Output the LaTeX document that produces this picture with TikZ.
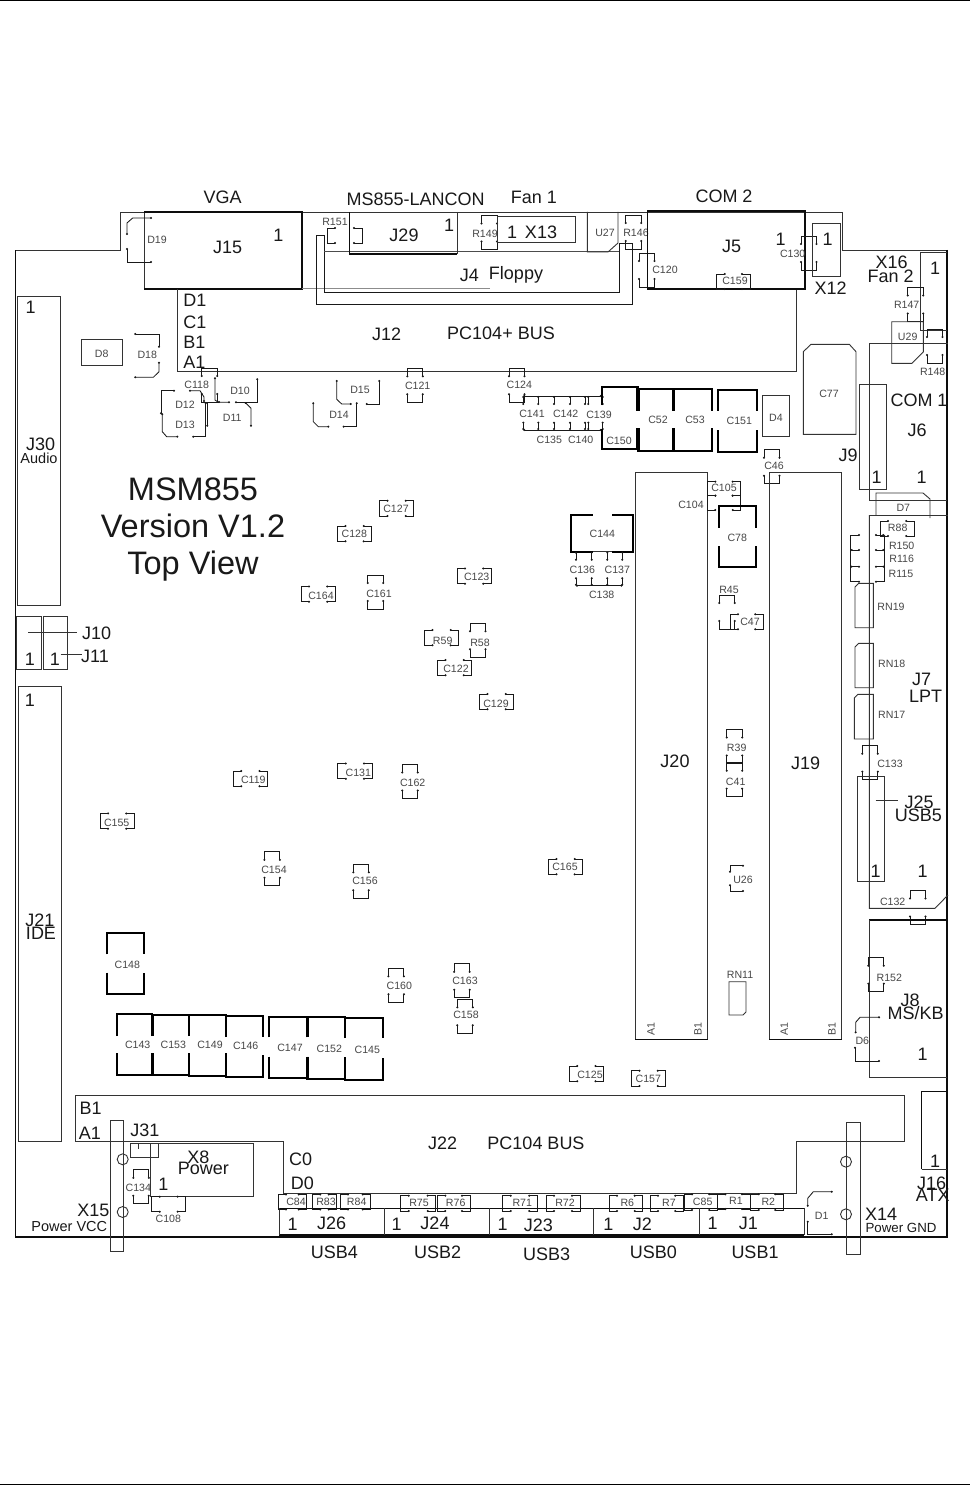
\documentclass[tikz,border=0pt]{standalone}
\usepackage{fontspec}
\setmainfont{Liberation Sans}
\usetikzlibrary{arrows.meta}
\newcounter{lbl}
\tikzset{
  big/.style={inner sep=0pt,font=\fontsize{18}{18}\selectfont,text height=12.9pt,text depth=0pt,text=black!90},
  sm/.style={inner sep=0pt,font=\fontsize{10.6}{11}\selectfont,text height=7.6pt,text depth=0pt,text=black!72},
  mid/.style={inner sep=0pt,font=\fontsize{14.5}{15}\selectfont,text height=10.4pt,text depth=0pt,text=black!90},
  lowmid/.style={inner sep=0pt,font=\fontsize{13.3}{14}\selectfont,text height=9.5pt,text depth=0pt,text=black!90},
  title/.style={inner sep=0pt,font=\fontsize{32.5}{33}\selectfont,text height=23.3pt,text depth=0pt,text=black!90},
  wire/.style={line width=.9pt,draw=black!80},
  heavy/.style={line width=1.2pt,draw=black!95},
  pin/.style={line width=.85pt,draw=black!90,arrows={Circle[length=1.9pt,fill=black]-Circle[length=1.9pt,fill=black]}},
  fat/.style={line width=1.9pt,draw=black},
  fatter/.style={line width=3.6pt,draw=black},
}
\newcommand\tx[4][big]{\stepcounter{lbl}\node[#1] (t\arabic{lbl}) at (#2,#3) {#4};}
% vertical footprint: x y (top-left), label x y, text
\newcommand\capv[5]{%
  \pgfmathsetmacro\xb{#1+15.5}\pgfmathsetmacro\ya{#2+9}\pgfmathsetmacro\yb{#2+25}\pgfmathsetmacro\yc{#2+34}%
  \draw[pin] (#1,\ya)--(#1,#2)--(\xb,#2)--(\xb,\ya);
  \draw[pin] (#1,\yb)--(#1,\yc)--(\xb,\yc)--(\xb,\yb);
  \tx[sm]{#3}{#4}{#5}}
% horizontal footprint
\newcommand\caph[5]{%
  \pgfmathsetmacro\xb{#1+34.3}\pgfmathsetmacro\xa{#1+9}\pgfmathsetmacro\xc{#1+25.3}\pgfmathsetmacro\yb{#2+15.3}%
  \draw[pin] (\xa,#2)--(#1,#2)--(#1,\yb)--(\xa,\yb);
  \draw[pin] (\xc,#2)--(\xb,#2)--(\xb,\yb)--(\xc,\yb);
  \tx[sm]{#3}{#4}{#5}}
% horizontal footprint, free right edge; optional = label offset from bottom edge
\newcommand\caphw[6][-8]{%
  \pgfmathsetmacro\xa{#2+9}\pgfmathsetmacro\xc{#3-9}\pgfmathsetmacro\ly{#5+(#1)}%
  \draw[pin] (\xa,#4)--(#2,#4)--(#2,#5)--(\xa,#5);
  \draw[pin] (\xc,#4)--(#3,#4)--(#3,#5)--(\xc,#5);
  \tx[sm]{#6}{\ly}{\labeltext}}
\newcommand\chw[7][-8]{\def\labeltext{#7}\caphw[#1]{#2}{#3}{#4}{#5}{#6}}
% thick capacitor: x1 x2 y1 y2 g1 g2
\newcommand\tcap[6]{%
  \draw[fat] (#1,#5)--(#1,#3)--(#2,#3)--(#2,#5);
  \draw[fat] (#1,#6)--(#1,#4)--(#2,#4)--(#2,#6);}
\begin{document}
\begin{tikzpicture}[x=1pt,y=-1pt,line join=miter]
\useasboundingbox (0,0) rectangle (970,1487);
\fill[white] (0,0) rectangle (970,1487);
% page rules
\draw[line width=1pt,black] (0,.8)--(970,.8);
\draw[line width=1pt,black] (0,1484.5)--(970,1484.5);
% board outline
\draw[wire] (15.5,250)--(120,250)--(120,212)--(842,212)--(842,250)--(947,250);
\draw[heavy] (947,250)--(947,1237)--(15.5,1237)--(15.5,250);
% VGA
\draw[wire] (144,212)--(144,289);
\draw[heavy] (144,212)--(302,212)--(302,289)--(144,289);
\draw[pin] (127,235)--(127,223)--(132.7,218)--(152,218);
\draw[pin] (127,248)--(127,262)--(152,262);
\tx[sm]{157}{240}{D19}
\tx{222.7}{197}{VGA}\tx{227.7}{247.3}{J15}\tx{278.3}{235}{1}
% J12
\draw[wire] (177,289)--(177,371.5)--(796.7,371.5)--(796.7,289);
\draw[wire,draw=black!45] (302,288.5)--(490,288.5);
\draw[wire] (796.7,289)--(805,289);
\tx{195}{300}{D1}\tx{195}{321.7}{C1}\tx{194.3}{342.3}{B1}\tx{194.3}{362.3}{A1}
\tx{386.7}{334}{J12}\tx{501}{333}{PC104+ BUS}
% J4
\draw[wire,draw=black!90] (619,243)--(619,292)--(324,292)--(324,235)--(316,235)--(316,304)--(632,304)--(632,243)--(619,243);
\draw[wire,draw=black!70] (324,251.7)--(619,251.7);
\tx{469.3}{275}{J4}\tx{516}{273}{Floppy}
% J29
\draw[heavy] (349.3,212)--(349.3,254)--(457.3,254);
\draw[wire] (457.3,212)--(457.3,254);
\chw[-21]{327}{362}{228}{243}{335}{R151}
\tx{404}{235}{J29}\tx{449}{225}{1}\tx{415.7}{199}{MS855-LANCON}
% R149, X13
\capv{481.5}{215.5}{485}{234}{R149}
\draw[wire] (497,216) rectangle (575.7,242);
\tx{512}{231.7}{1}\tx{541}{231.7}{X13}\tx{534}{197}{Fan 1}
% U27
\draw[wire] (587.3,212)--(587.3,252)--(608,252)--(618,243)--(618,212);
\tx[sm]{605}{233}{U27}
\capv{625.7}{215}{636}{232.5}{R146}
\capv{639}{253}{665}{270}{C120}
% J5
\draw[heavy] (647.7,211)--(805,211)--(805,289)--(647.7,289)--cycle;
\tx{731.7}{246}{J5}\tx{780.7}{239}{1}\tx{724}{196}{COM 2}
\chw{716.7}{750}{274}{289}{735}{C159}
\capv{801}{236}{792.7}{254}{C130}
\draw[wire] (812.7,223) rectangle (840,276);
\tx{827.7}{239}{1}\tx{830.7}{288}{X12}
% X16 / fan 2
\draw[wire] (920.7,252)--(920.7,330)--(947,330);
\draw[wire] (920.7,252)--(947,252);
\tx{935}{268}{1}\tx{891.7}{261.7}{X16}\tx{890.7}{276}{Fan 2}
\capv{907.7}{287.5}{906.7}{305}{R147}
\draw[wire] (923.3,321.7)--(891.7,321.7)--(891.7,363.3)--(912,363.3)--(923.3,352)--(923.3,321.7);
\tx[sm]{907.7}{336.7}{U29}
\capv{927}{329}{932.7}{371.7}{R148}
% J6 COM1
\draw[wire] (869,343)--(948,343);
\draw[wire] (869,343)--(869,500.7)--(947,500.7);
\tx{919}{400}{COM 1}\tx{917}{430}{J6}\tx{921.7}{477}{1}
% J9
\draw[wire] (859.3,489.3)--(859.3,384.3)--(886,384.3)--(886,489.3)--cycle;
\tx{848}{455}{J9}\tx{876.7}{477}{1}
% C77, D4, C46
\draw[wire] (803.3,434.3)--(803.3,351.7)--(811,344.3)--(849.3,344.3)--(856,351.7)--(856,434.3)--cycle;
\tx[sm]{829}{394}{C77}
\draw[wire] (762.3,395.7) rectangle (789,436);
\tx[sm]{776}{418}{D4}
\capv{764}{449.8}{774}{466}{C46}
% J30
\draw[wire] (17.3,605)--(17.3,296)--(60.7,296)--(60.7,605)--cycle;
\tx{30.7}{306.7}{1}\tx{40.7}{444}{J30}\tx[mid]{39}{458}{Audio}
% J10 J11
\draw[wire] (16,616.7) rectangle (41.7,669.3);
\draw[wire] (43.3,616.7) rectangle (67.3,669.3);
\draw[wire] (28.3,632)--(76.7,632);
\draw[wire] (60.7,654)--(81.7,654);
\tx{96.7}{633}{J10}\tx{95}{655.7}{J11}\tx{30}{659.3}{1}\tx{55}{659.3}{1}
% J21
\draw[wire] (18.3,686.7) rectangle (61,1141.5);
\tx{30}{700}{1}\tx{40}{920}{J21}\tx{41}{933}{IDE}
% D parts
\draw[wire] (81.3,339.3) rectangle (122.7,365.7);
\tx[sm]{101.7}{354}{D8}
\draw[pin] (134.3,334)--(159,334)--(159,347.7);
\draw[pin] (159,361.7)--(159,371.7)--(153.3,377.3)--(134.3,377.3);
\tx[sm]{147.3}{355}{D18}
\capv{201.7}{368}{196.7}{385}{C118}
\draw[pin] (257.3,378.3)--(257.3,402.3)--(235,402.3);
\draw[pin] (215,377.3)--(215,400)--(218.3,402.3)--(230,402.3);
\tx[sm]{240}{391}{D10}
\draw[pin] (220,402)--(207.3,402)--(207.3,426.7);
\draw[pin] (245,402.3)--(251,408.3)--(251,426.7);
\tx[sm]{232.3}{418}{D11}
\draw[pin] (175,390.7)--(161,390.7)--(161,414.3);
\draw[pin] (189,390.7)--(200,390.7)--(204,397)--(204,402);
\tx[sm]{185}{405}{D12}
\draw[pin] (162.3,413.3)--(162.3,431.7)--(166.7,436.7)--(178.3,436.7);
\draw[pin] (192.3,436.7)--(205.7,436.7)--(205.7,402.3);
\tx[sm]{185}{425}{D13}
\draw[pin] (313.3,402.3)--(313.3,421.7)--(318.3,426.7)--(329.3,426.7);
\draw[pin] (342.7,426.7)--(356.7,426.7)--(356.7,402.3);
\tx[sm]{339}{415}{D14}
\draw[pin] (336.7,380)--(336.7,399.3)--(341.7,404)--(351.7,404);
\draw[pin] (365.7,404)--(379.3,404)--(379.3,380);
\tx[sm]{360}{390}{D15}
\capv{407.3}{368.3}{417.7}{386}{C121}
\capv{509}{368.3}{519.3}{385}{C124}
% C139 row
\draw[pin] (523.3,396)--(601.7,396);
\draw[pin] (523.3,430)--(601.7,430);
\foreach \xx in {523.3,538.3,554,570,585,588.3,602.7}{
  \draw[pin] (\xx,396)--(\xx,405);
  \draw[pin] (\xx,430)--(\xx,421.7);}
\tx[sm]{532}{414}{C141}\tx[sm]{565.7}{414}{C142}\tx[sm]{599}{415}{C139}
\tx[sm]{549.3}{440}{C135}\tx[sm]{580.7}{440}{C140}
% thick row top
\tcap{601.7}{637.7}{387.3}{449.3}{405}{429}
\tcap{637.7}{673.3}{389}{450.7}{410.7}{428.3}
\tcap{673.3}{712}{389}{450.7}{410.7}{428.3}
\tcap{718.3}{756.7}{390}{451.7}{410.7}{430}
\draw[fatter] (637.7,388)--(637.7,410.7) (637.7,428.3)--(637.7,450);
\draw[fatter] (673.3,389)--(673.3,410.7) (673.3,428.3)--(673.3,450.7);
\tx[sm]{619}{440.7}{C150}\tx[sm]{658}{420}{C52}\tx[sm]{695}{420}{C53}\tx[sm]{739.3}{420.7}{C151}
% title
\tx[title]{193}{489}{MSM855}\tx[title]{193}{526}{Version V1.2}\tx[title]{193}{563}{Top View}
% J20 J19
\draw[wire] (635,1039.3)--(635,472.7)--(707.7,472.7)--(707.7,1039.3);
\draw[heavy] (635,1039.3)--(707.7,1039.3);
\draw[wire] (769.3,1039.3)--(769.3,472.7)--(841.7,472.7)--(841.7,1039.3);
\draw[heavy] (769.3,1039.3)--(841.7,1039.3);
\tx{675}{761}{J20}\tx{805.7}{763.3}{J19}
\node[sm,rotate=90] (a1l) at (650.7,1029.3) {A1};
\node[sm,rotate=90] (b1l) at (697.7,1029.3) {B1};
\node[sm,rotate=90] (a1r) at (784,1029.3) {A1};
\node[sm,rotate=90] (b1r) at (831.7,1029.3) {B1};
\chw{707.3}{740.7}{481.7}{495.7}{724}{C105}
\chw[-5]{707.3}{740.7}{495.7}{510}{691}{C104}
\tcap{718.7}{756}{505.7}{567.3}{527.7}{546}
\tx[sm]{737.3}{537.3}{C78}
\capv{719.3}{595}{729}{590}{R45}
\chw{730}{763.3}{614.3}{629.3}{750}{C47}
\capv{726.7}{729.5}{736.7}{747.3}{R39}
\capv{726.7}{762.7}{735.7}{781.7}{C41}
\draw[pin] (730,872.7)--(730,865.7)--(744,865.7);
\draw[pin] (730,884.3)--(730,891)--(744,891);
\tx[sm]{743}{880}{U26}
\draw[wire] (729,981.7)--(746,981.7)--(746,1012)--(743,1015)--(729,1015)--cycle;
\tx[sm]{740}{975}{RN11}
% C144
\draw[fat] (592.7,515)--(571,515)--(571,551.7)--(592.7,551.7);
\draw[fat] (612.3,515)--(633.3,515)--(633.3,551.7)--(612.3,551.7);
\draw[wire] (592.7,551.7)--(612.3,551.7);
\tx[sm]{602.3}{533.3}{C144}
\foreach \xx in {576,591.7,607.3,622.3}{
  \draw[pin] (\xx,551.7)--(\xx,560.7);
  \draw[pin] (\xx,577.3)--(\xx,585.7);}
\draw[pin] (576,585.7)--(622.3,585.7);
\tx[sm]{582.3}{570}{C136}\tx[sm]{617.3}{570}{C137}\tx[sm]{601.7}{594.3}{C138}
% J7
\draw[wire] (869,515)--(948,515);
\draw[wire] (869.3,515)--(869.3,908.3)--(935,908.3)--(948,895);
\draw[wire] (876,515)--(876,493)--(923,493)--(930,499)--(930,518);
\tx[sm]{903.3}{508}{D7}
\tx{921.7}{679}{J7}\tx{925.7}{696}{LPT}
\chw{880}{914.3}{521}{536}{897.7}{R88}
\draw[pin] (860,535)--(850.7,535)--(850.7,581.7)--(860,581.7);
\draw[pin] (884.3,535)--(884.3,581.7)--(875,581.7);
\draw[pin] (875,535)--(884.3,535);
\foreach \yy in {550,566.7}{
  \draw[pin] (850.7,\yy)--(860,\yy);
  \draw[pin] (875,\yy)--(884.3,\yy);}
\tx[sm]{901.7}{546}{R150}\tx[sm]{901.7}{559}{R116}\tx[sm]{901}{574}{R115}
\draw[wire] (855,587)--(858.7,583.3)--(873.3,583.3)--(873.3,627.7)--(855,627.7)--cycle;
\tx[sm]{891}{606.7}{RN19}
\draw[wire] (855,647)--(858.7,643.3)--(873.3,643.3)--(873.3,687.7)--(855,687.7)--cycle;
\tx[sm]{891.7}{663.3}{RN18}
\draw[wire] (854.3,698)--(858,694.3)--(873.3,694.3)--(873.3,739)--(854.3,739)--cycle;
\tx[sm]{891.7}{715}{RN17}
\capv{862.3}{745.7}{890}{763.3}{C133}
\draw[wire] (857.7,776.7) rectangle (884.3,881.7);
\draw[wire] (875.7,800)--(897.7,800);
\tx{875.7}{870.7}{1}\tx{922.7}{870.7}{1}
\tx{919}{802.3}{J25}\tx{918.3}{815}{USB5}
\capv{910}{890.5}{892.7}{901.7}{C132}
% J8
\draw[heavy] (869,920)--(947,920);
\draw[wire] (869,920)--(869,1077.3)--(947,1077.3);
\tx{910}{1000}{J8}\tx{915.7}{1013.3}{MS/KB}\tx{922.7}{1054}{1}
\capv{868.3}{957.7}{889.3}{978}{R152}
\draw[pin] (855.7,1033.3)--(855.7,1022.3)--(860,1017.3)--(880,1017.3);
\draw[pin] (855,1046.7)--(855,1061)--(880,1061);
\tx[sm]{862.3}{1041}{D6}
% J16
\draw[heavy] (921.7,1169.3)--(921.7,1091.7)--(947,1091.7);
\draw[wire] (921.7,1169.3)--(947,1169.3);
\tx{935}{1161}{1}\tx{931.7}{1183}{J16}\tx{932.7}{1195}{ATX}
% small C footprints
\caph{379.5}{500.7}{396}{508.3}{C127}
\caph{337.4}{526}{354.3}{534}{C128}
\caph{457}{568.5}{476.7}{576.7}{C123}
\caph{301}{586.5}{321}{596}{C164}
\capv{367.7}{575}{379}{593.3}{C161}
\caph{424.4}{630}{442.7}{640.7}{R59}
\capv{470}{623.3}{480}{642.7}{R58}
\caph{437.5}{660}{456}{668.7}{C122}
\caph{479.5}{694}{496}{703.3}{C129}
\caph{233.2}{771}{253.3}{779.3}{C119}
\caph{337.8}{763.5}{358.3}{772.3}{C131}
\capv{402.3}{764.5}{412.7}{782.3}{C162}
\caph{100}{813.4}{116.7}{822.3}{C155}
\capv{264.4}{851.8}{274}{870}{C154}
\capv{353.3}{864.3}{365}{881}{C156}
\caph{548.4}{859}{565}{866.7}{C165}
\caph{569.2}{1066}{590}{1074.3}{C125}
\caph{631.5}{1070.7}{648.3}{1078.3}{C157}
\capv{388.4}{968.3}{399.3}{986}{C160}
\capv{454.2}{963.8}{465}{981}{C163}
\capv{457.3}{999.3}{466}{1014.3}{C158}
% thick lower caps
\tcap{106.7}{144.3}{932.7}{994}{954.3}{972.7}
\tx[sm]{127.3}{965}{C148}
\tcap{116.7}{152.3}{1014.3}{1075}{1036}{1053.3}
\tcap{152.3}{189}{1014.6}{1075.3}{1036}{1053.3}
\tcap{189}{226}{1015}{1076}{1036}{1053.3}
\tcap{226}{263.3}{1015.7}{1076.7}{1037}{1055}
\draw[line width=2.6pt] (152.3,1014.6)--(152.3,1036) (152.3,1053.3)--(152.3,1075);
\tx[sm]{137.7}{1044.3}{C143}\tx[sm]{173.3}{1045}{C153}\tx[sm]{210}{1045}{C149}\tx[sm]{245.7}{1045.7}{C146}
\tcap{269}{307.3}{1016.7}{1078.3}{1037.3}{1056.7}
\tcap{307.3}{345}{1017}{1078.8}{1037.3}{1056.7}
\tcap{345}{382.7}{1017.7}{1080}{1038}{1058}
\draw[line width=2.8pt] (307.3,1017)--(307.3,1037.3) (307.3,1056.7)--(307.3,1078);
\tx[sm]{290}{1047.3}{C147}\tx[sm]{329.3}{1048.3}{C152}\tx[sm]{367.3}{1049.3}{C145}
% J22
\draw[wire] (75,1095.7)--(904.3,1095.7)--(904.3,1141)--(796.7,1141)--(796.7,1193.3)--(283.3,1193.3)--(283.3,1141)--(75,1141)--cycle;
\tx{90.7}{1108.3}{B1}\tx{90}{1132.7}{A1}\tx{442.7}{1143.3}{J22}\tx{536}{1142.7}{PC104 BUS}
\tx{300.7}{1159.3}{C0}\tx{302.3}{1183.3}{D0}
% J31 X8 X15
\draw[wire] (130,1143.3) rectangle (158.3,1157.3);
\draw[wire] (138.3,1143.3)--(138.3,1149);
\draw[wire] (150,1143.3)--(253.3,1143.3)--(253.3,1196.7)--(150,1196.7)--cycle;
\tx{145}{1130}{J31}\tx{198.3}{1157.3}{X8}\tx{203.3}{1168.3}{Power}\tx{163.3}{1184}{1}
\draw[wire] (110,1120) rectangle (123.3,1251.7);
\draw[wire] (122.7,1159.3) circle (5.5);
\draw[wire] (122.7,1212) circle (5.5);
\tx{93.3}{1210}{X15}\tx[mid]{69.3}{1226}{Power VCC}
\capv{133.3}{1169.8}{138.3}{1187.7}{C134}
\chw[7.3]{151.7}{185.7}{1196.7}{1211.7}{168.3}{C108}
% USB row
\draw[heavy] (279.3,1208.3)--(804,1208.3);
\draw[heavy] (279.3,1235)--(804,1235);
\foreach \xx in {279.3,384.3,489,593.3,699,804}{\draw[wire] (\xx,1208.3)--(\xx,1235);}
\tx{292.7}{1224}{1}\tx{331.7}{1223.3}{J26}\tx{396.7}{1224}{1}\tx{435}{1223.3}{J24}
\tx{502.7}{1224}{1}\tx{538.3}{1224.7}{J23}\tx{608.3}{1223.7}{1}\tx{642.3}{1223.7}{J2}
\tx{712.7}{1223.3}{1}\tx{748.3}{1223.3}{J1}
\tx{334.3}{1252.3}{USB4}\tx{437.7}{1252.3}{USB2}\tx{546.7}{1254}{USB3}\tx{653.3}{1252}{USB0}\tx{755}{1251.7}{USB1}
\chw{278}{306.7}{1194.5}{1209.5}{296}{C84}
\chw{312.3}{336.7}{1194.5}{1209.5}{326}{R83}
\chw{340}{370.7}{1194.5}{1209.5}{356.7}{R84}
\chw{400.7}{435.7}{1195.7}{1211}{419}{R75}
\chw{437.3}{470}{1195.7}{1211}{455.7}{R76}
\chw{502.7}{537.3}{1195.7}{1211}{522.3}{R71}
\chw{546}{580}{1195.7}{1211}{565}{R72}
\chw{609}{642.7}{1195.7}{1211}{627.3}{R6}
\chw{650}{683.3}{1195.7}{1211}{669}{R7}
\chw{684}{717.3}{1194.3}{1210}{702.7}{C85}
\chw{717.3}{750}{1194.3}{1209}{736}{R1}
\chw{750.7}{783.3}{1194.3}{1210}{768.3}{R2}
% D1, X14
\draw[pin] (807.7,1206.7)--(807.7,1198.3)--(813.3,1191.7)--(832.7,1191.7);
\draw[pin] (807.7,1220.7)--(807.7,1234.3)--(832.7,1234.3);
\tx[sm]{821.7}{1216}{D1}
\draw[wire] (846,1122.7) rectangle (860,1254);
\draw[wire] (846,1161.7) circle (5.5);
\draw[wire] (846,1214.3) circle (5.5);
\tx{881}{1214.3}{X14}
\tx[lowmid]{901}{1227.3}{Power GND}
\end{tikzpicture}
\end{document}
